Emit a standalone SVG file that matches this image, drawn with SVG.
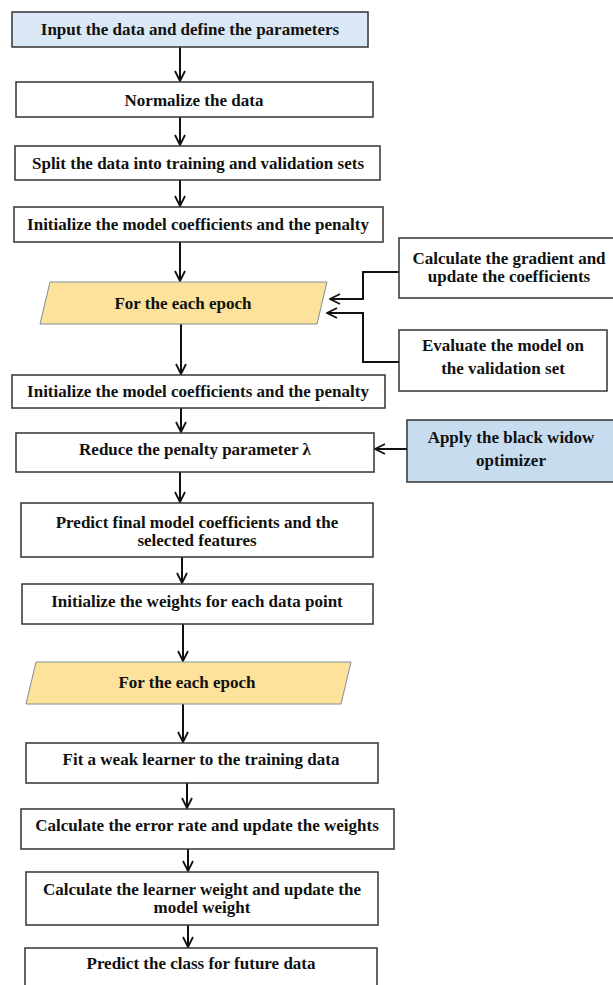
<svg xmlns="http://www.w3.org/2000/svg" width="613" height="985" viewBox="0 0 613 985">
<defs>
<marker id="arr" viewBox="0 0 12 12" refX="11" refY="6" markerWidth="12" markerHeight="12" markerUnits="userSpaceOnUse" orient="auto">
<path d="M1,1 L11,6 L1,11" fill="none" stroke="#111" stroke-width="1.8"/>
</marker>
<style>
.box{fill:#fff;stroke:#333;stroke-width:1.5}
.blue{fill:#dae8f5;stroke:#333;stroke-width:1.5}
.blue2{fill:#c8dcf0;stroke:#333;stroke-width:1.5}
.para{fill:#fce29a;stroke:#7f8f9c;stroke-width:1}
text{font-family:"Liberation Serif","Times New Roman",serif;font-weight:bold;font-size:17px;fill:#111;text-anchor:middle;dominant-baseline:central}
.c{fill:none;stroke:#111;stroke-width:2;marker-end:url(#arr)}
</style>
</defs>
<rect width="613" height="985" fill="#fff"/>
<g id="connectors">
<path class="c" d="M180,47 V81"/>
<path class="c" d="M180,117 V145"/>
<path class="c" d="M180,180 V206"/>
<path class="c" d="M180,242 V281"/>
<path class="c" d="M399,272 H363 V299 H330"/>
<path class="c" d="M399,362 H363 V313 H327"/>
<path class="c" d="M181,324 V374"/>
<path class="c" d="M181,408 V432"/>
<path class="c" d="M407,449 H375"/>
<path class="c" d="M180,472 V502"/>
<path class="c" d="M182,557 V583"/>
<path class="c" d="M183,624 V661"/>
<path class="c" d="M183,704 V742"/>
<path class="c" d="M187,783 V808"/>
<path class="c" d="M188,849 V871"/>
<path class="c" d="M188,925 V947"/>
</g>
<g id="n1"><rect class="blue" x="12" y="12" width="356" height="35"/><text x="190" y="29">Input the data and define the parameters</text></g>
<g id="n2"><rect class="box" x="16" y="82" width="357" height="35"/><text x="194" y="100">Normalize the data</text></g>
<g id="n3"><rect class="box" x="15" y="146" width="365" height="34"/><text x="198" y="163">Split the data into training and validation sets</text></g>
<g id="n4"><rect class="box" x="14" y="207" width="369" height="35"/><text x="198" y="224">Initialize the model coefficients and the penalty</text></g>
<g id="n5"><polygon class="para" points="50,282 327,282 317,324 40,324"/><text x="183" y="303">For the each epoch</text></g>
<g id="n6"><rect class="box" x="399" y="238" width="216" height="60"/><text x="509" y="258">Calculate the gradient and</text><text x="509" y="276">update the coefficients</text></g>
<g id="n7"><rect class="box" x="399" y="330" width="208" height="61"/><text x="503" y="345">Evaluate the model on</text><text x="503" y="368">the validation set</text></g>
<g id="n8"><rect class="box" x="12" y="375" width="373" height="33"/><text x="198" y="391">Initialize the model coefficients and the penalty</text></g>
<g id="n9"><rect class="box" x="16" y="433" width="358" height="39"/><text x="195" y="449">Reduce the penalty parameter λ</text></g>
<g id="n10"><rect class="blue2" x="407" y="420" width="208" height="62"/><text x="511" y="437">Apply the black widow</text><text x="511" y="460">optimizer</text></g>
<g id="n11"><rect class="box" x="21" y="503" width="352" height="54"/><text x="197" y="522">Predict final model coefficients and the</text><text x="197" y="540">selected features</text></g>
<g id="n12"><rect class="box" x="22" y="584" width="351" height="40"/><text x="197" y="601">Initialize the weights for each data point</text></g>
<g id="n13"><polygon class="para" points="36,662 351,662 341,704 26,704"/><text x="187" y="682">For the each epoch</text></g>
<g id="n14"><rect class="box" x="26" y="743" width="352" height="40"/><text x="201" y="759">Fit a weak learner to the training data</text></g>
<g id="n15"><rect class="box" x="21" y="809" width="373" height="40"/><text x="207" y="825">Calculate the error rate and update the weights</text></g>
<g id="n16"><rect class="box" x="26" y="872" width="352" height="53"/><text x="202" y="889">Calculate the learner weight and update the</text><text x="202" y="907">model weight</text></g>
<g id="n17"><rect class="box" x="25" y="948" width="352" height="50"/><text x="201" y="963">Predict the class for future data</text></g>
</svg>
